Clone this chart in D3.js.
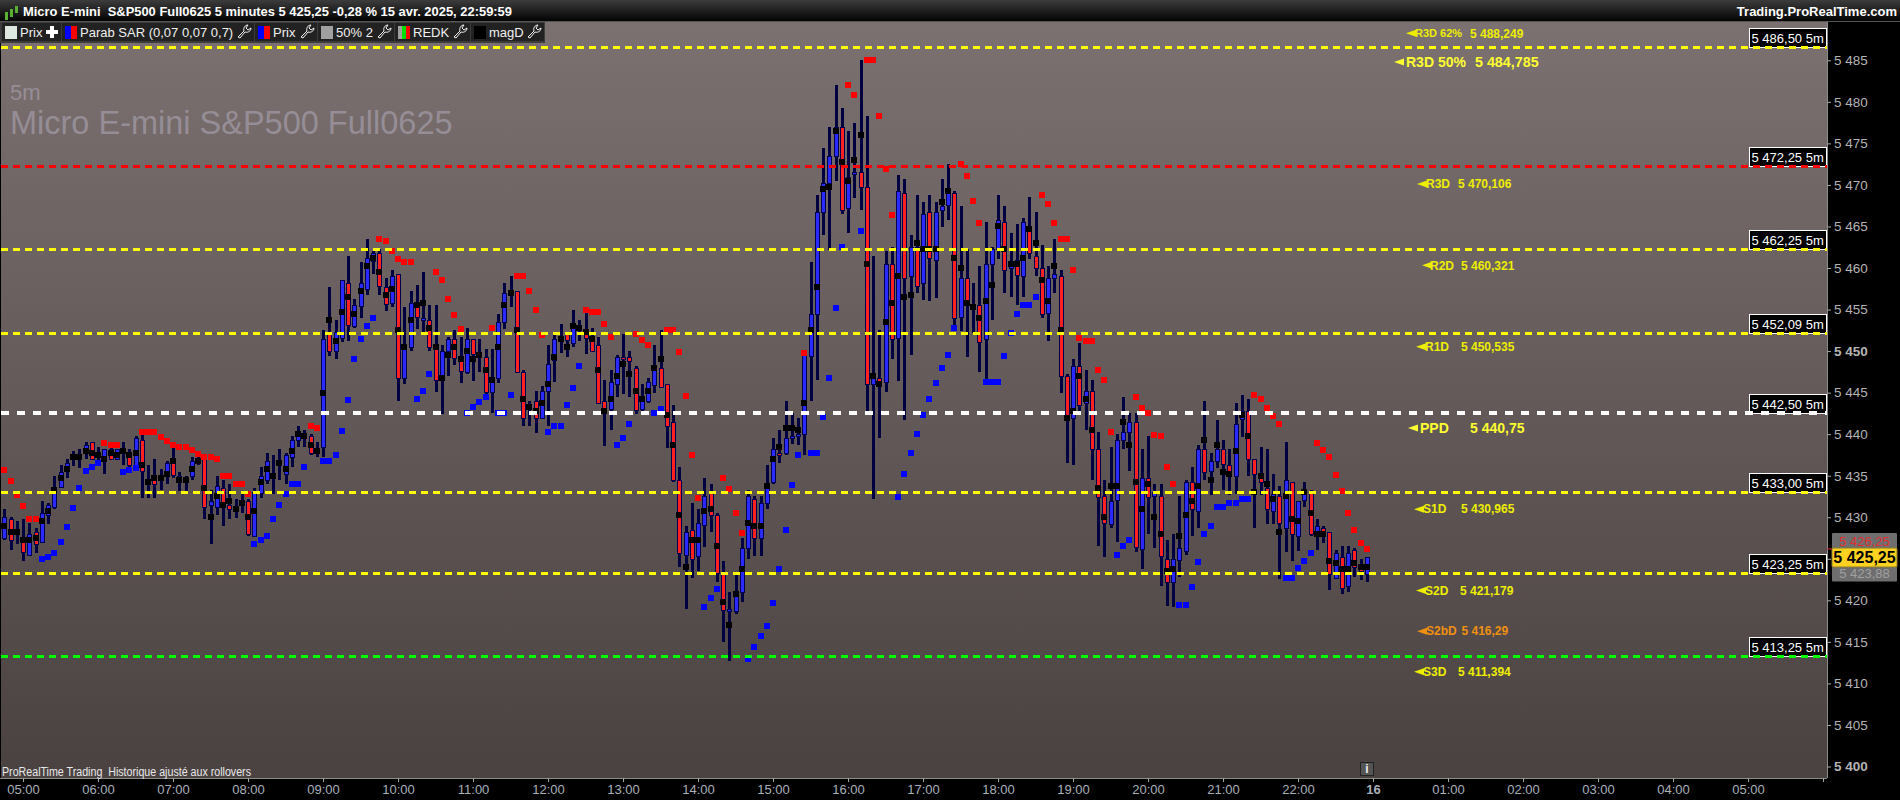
<!DOCTYPE html>
<html>
<head>
<meta charset="utf-8">
<title>Micro E-mini S&amp;P500 Full0625</title>
<script src="https://cdn.jsdelivr.net/npm/d3@7"></script>
<style>
  html, body { margin: 0; padding: 0; background: #000; overflow: hidden; }
  text { font-family: "Liberation Sans", Arial, sans-serif; white-space: pre; }
</style>
</head>
<body>
<div class="graph"></div>
<script>
// Bars, one every 5 minutes, 04:40 to 22:55
const barHigh = [
  5431,5430,5429.5,5429.75,5429.25,5428.75,5432,5431.75,5435,5436.25,
  5437,5438,5438.25,5439,5439,5438.5,5438.25,5438.75,5438.25,5439,
  5438.25,5439.75,5440.25,5436.25,5437,5435.75,5436.75,5438.5,5435.5,5435,
  5437.25,5437.25,5437,5433.25,5435,5434.5,5434,5432.25,5432.75,5432.25,
  5433.5,5436,5437.75,5437.5,5438.25,5437.75,5439.75,5441,5440.5,5440,
  5439,5452.5,5457.75,5453.75,5458.5,5461.5,5456.25,5460.75,5463.5,5462,
  5462.25,5458.75,5459.75,5459.25,5455.25,5457.25,5458,5459.5,5455.5,5455.5,
  5450.75,5451.75,5452.5,5451.75,5452.75,5451.5,5451.5,5450.25,5450.25,5454.5,
  5458.25,5459,5457.25,5447.75,5444,5445.25,5445.75,5450.75,5452.25,5453.25,
  5452.25,5455,5453.75,5454.75,5452.75,5451.75,5446.5,5447.75,5449.5,5452,
  5450,5448.25,5446,5446.75,5450.75,5452.5,5446,5443.5,5436,5429,
  5431.75,5431,5434.75,5434,5430.5,5424.75,5421,5423,5427.5,5433.25,
  5432.5,5432.5,5436.25,5439.5,5440.5,5444,5442.5,5442,5449.75,5460.75,
  5468.75,5474.5,5477,5482,5479.25,5476.5,5477.5,5485,5478.25,5461.5,
  5452.5,5462,5462.5,5471.25,5470.75,5464,5468.75,5468,5468.75,5468,
  5470.75,5472.5,5469.25,5467.5,5462.25,5458.25,5460.25,5465.5,5462.5,5468.75,
  5467.5,5464.25,5465.25,5466,5468.5,5466.75,5462.75,5460.25,5463.5,5459.75,
  5447.25,5449,5451,5447.75,5446.5,5440.25,5434.5,5438.5,5440,5444.5,
  5442.5,5442.5,5438.25,5439.75,5434,5434,5427.25,5428,5432.5,5434.5,
  5436,5438.75,5444,5437.75,5441.75,5439.25,5438.25,5443.75,5444.75,5444.25,
  5437,5438.5,5438.25,5435.25,5433.75,5439,5434.25,5432,5434.25,5433.25,
  5429.75,5429,5428.25,5426,5426.5,5426.5,5426.25,5425,5425.25
];
const barLow = [
  5427.25,5426,5426.75,5424.75,5425.25,5425.75,5427,5429.25,5431,5433.5,
  5434.75,5436.25,5436,5437,5437,5436.25,5435.25,5437,5437,5436.25,
  5436,5436,5432.25,5432.25,5432.25,5433.25,5434,5434.75,5433.25,5433.25,
  5434.5,5436.25,5429.75,5426.75,5430.25,5429,5429.75,5430,5430.5,5427.75,
  5427.75,5432.25,5434,5432.75,5434.5,5434,5436,5438.5,5438.5,5437.5,
  5437.25,5437.25,5449.5,5449,5451,5451.25,5452.75,5454,5456.75,5459.25,
  5456.75,5454.75,5455.25,5444,5446,5450,5452.75,5452.25,5450,5445,
  5442.5,5447,5448.25,5446.25,5447.25,5446.5,5447.5,5444.5,5442.5,5446.25,
  5452.75,5455.25,5447.5,5441,5441,5440.25,5441.75,5441,5446.25,5449.75,
  5449.25,5450.5,5451.25,5449.75,5450,5443.75,5438.5,5440.5,5444.5,5444.75,
  5444.5,5442.5,5442.75,5443.75,5445,5445.5,5438.25,5434.25,5424,5419,
  5422.75,5423.5,5426.5,5428.25,5422.25,5415,5412.75,5418.25,5419.75,5425,
  5425.25,5425.25,5431,5434,5436.5,5437.5,5438.75,5438.75,5437.5,5444,
  5446.5,5464,5462.25,5470.5,5466.5,5464.25,5468.5,5467,5442.75,5432.25,
  5439.5,5445,5449,5446.5,5441.75,5449.5,5457,5456.25,5456,5456.5,
  5465,5465.75,5452.5,5452.5,5449.25,5452.25,5447.5,5446.25,5453.75,5461,
  5457,5456.5,5455.5,5456.5,5461,5459,5454,5451.25,5457,5445,
  5436.5,5436.25,5442.5,5440.5,5434.5,5426.5,5425.25,5428.75,5427,5438.25,
  5435.5,5425.75,5423.75,5428,5426.25,5421.75,5419.25,5419.25,5422.75,5425.5,
  5427.75,5428.75,5434.5,5432.75,5436,5433.25,5432.75,5432.75,5439.75,5435,
  5428.75,5432.75,5429.25,5429.25,5422.5,5425.75,5424.75,5426,5431.25,5427.75,
  5426,5427,5421.25,5422.75,5420.75,5421,5422.75,5422.5,5422.25
];
const barOpen = [
  5427.5,5429.75,5428,5427,5425.5,5428.25,5427,5430.25,5431.25,5433.75,
  5435.5,5437,5437,5437.75,5439,5437.25,5436.75,5438.25,5437,5437.75,
  5437.25,5436.25,5439.25,5434,5435,5434.5,5435.25,5436.5,5435,5434.25,
  5435,5436.5,5437,5431.5,5431.25,5433.5,5431.5,5430.75,5431.5,5432,
  5427.75,5433,5434.5,5434.75,5436.25,5435.25,5437.25,5439.25,5439.5,5439.75,
  5437.75,5438.5,5452,5450,5451.5,5458.25,5453,5455.5,5457.5,5460.75,
  5461.75,5457.75,5455.75,5459.25,5446.75,5450.5,5455.25,5453.75,5453.75,5450.75,
  5446.75,5450,5451.5,5449,5447.5,5451.5,5449.25,5449.25,5445,5446.75,
  5453.5,5456.75,5457.25,5447.5,5443,5444,5442,5445.25,5449,5451.25,
  5452,5451,5452.5,5452.25,5451.25,5450.75,5444,5443,5446,5449.25,
  5449.25,5448,5443,5444,5446,5448,5446,5441.5,5434.5,5425.5,
  5428.5,5425.25,5429,5433,5430.25,5423.25,5418.75,5418.75,5421,5426.25,
  5432.25,5427.5,5431.75,5434.25,5437.75,5437.75,5439.5,5439.75,5440,5449.5,
  5454.5,5466.75,5470.25,5473.5,5477,5467.25,5471.25,5471.5,5469.75,5446,
  5446.75,5446.25,5460.5,5451.5,5469,5459,5462.5,5458.25,5466.75,5461,
  5467,5467.5,5469,5454,5458.75,5455,5455.5,5451.5,5460.5,5462.25,
  5465.5,5460,5461,5459,5465,5461.5,5460,5454.5,5458.75,5459,
  5447,5442,5448.25,5443.75,5445.25,5438.25,5432.5,5429.25,5432,5439.25,
  5440.25,5441.5,5426.25,5434.75,5432.5,5432.5,5425,5422.25,5424.75,5426,
  5434.25,5430.75,5438.25,5435.5,5436.75,5438.25,5436.25,5435,5441.75,5442.75,
  5437,5435.25,5433.5,5430.75,5432.5,5428.75,5434.25,5427.75,5432,5433,
  5428,5428.75,5428.25,5422.75,5425.25,5421.75,5426,5424.25,5423.25
];
const barClose = [
  5430,5427.25,5428.25,5425.75,5428,5426.75,5430.5,5431.5,5433.25,5435.5,
  5436.5,5437.25,5437.25,5438.75,5437,5437.75,5438.25,5437,5438.25,5438,
  5436.25,5439.5,5435.5,5434.25,5434,5434.75,5436.5,5435,5434.75,5434.5,
  5436.75,5436.75,5431.25,5432,5433.75,5431.75,5431,5431,5431.75,5428,
  5433,5435,5436.75,5435,5436.5,5437.5,5439.25,5440,5439.75,5437.75,
  5438,5451.5,5450,5452.25,5458.5,5453.25,5455.5,5458.25,5461.25,5461.75,
  5457.75,5455.75,5459,5446.75,5450.25,5455.75,5454,5454,5450.5,5446.5,
  5450,5451.5,5449.25,5447.5,5451.5,5449.75,5449.5,5445,5446.5,5453.5,
  5457,5457,5447.5,5442,5443.25,5442,5445.25,5448.5,5451.5,5451.5,
  5451.25,5452.75,5452.75,5451.5,5450,5443.75,5443,5446.25,5449.25,5449,
  5448.75,5443,5444.25,5446.25,5448.25,5445.75,5441,5434.5,5425.75,5428.25,
  5425,5429.25,5432.5,5430.25,5423.25,5418.75,5419,5420.75,5426.25,5432.5,
  5427.5,5431.75,5433.75,5438.25,5437.5,5439.5,5439.75,5440,5449.5,5454.5,
  5466.75,5470.25,5473.5,5477,5467,5471,5471.5,5469.75,5446,5446.75,
  5446,5460.5,5451.5,5469.25,5458.75,5462.5,5457.75,5466.5,5461.25,5466.75,
  5467.5,5469,5454,5458.75,5455.5,5455.25,5451,5460.5,5462.25,5465.75,
  5459.75,5460.75,5459.25,5465.5,5461.75,5460,5454.5,5458.75,5459.25,5447,
  5442.25,5448.25,5443.5,5445.25,5438.25,5432.5,5429.25,5432,5439.25,5440.25,
  5441.5,5426.5,5434.75,5432.5,5433,5425.25,5422.25,5425,5426.25,5434.25,
  5431,5438.25,5435.5,5436.75,5438.25,5436.5,5435,5441.25,5442.75,5437,
  5435.25,5434.25,5431,5432.75,5429.25,5434.5,5428,5432,5432.75,5428,
  5429,5428,5423.25,5425.75,5421.5,5425.75,5424,5423.5,5425.25
];
// Black square of the magD indicator on each bar
const barMark = [
  5429,5428.25,5428.25,5427.25,5427.25,5427.5,5429.5,5430.75,5433.25,5434.75,
  5435.75,5437.25,5437.25,5438,5437.75,5437.5,5437,5437.75,5437.5,5438,
  5437.5,5437.75,5436.25,5434.25,5434.75,5434.75,5435.25,5436.75,5434.5,5434.5,
  5435.75,5436.75,5433.5,5430,5432.5,5431.5,5432,5431,5431.75,5430,
  5430.75,5434.25,5435.75,5435,5436.5,5435.75,5438,5440,5439.75,5438.75,
  5438,5445,5453.75,5451.25,5454.75,5456.5,5454.5,5457.25,5460.25,5461.25,
  5459.5,5456.75,5457.5,5452.5,5450.5,5453.75,5455.5,5455.75,5452.75,5450.5,
  5446.75,5449.5,5450.5,5449,5450,5449,5449.5,5447.75,5446.5,5450.5,
  5455.5,5457,5452.5,5444.25,5443.25,5442.75,5443.75,5446,5449.25,5451.5,
  5450.5,5453,5452.75,5452.25,5451.5,5447.75,5442.75,5444.25,5447,5448.5,
  5447.25,5445.25,5444.25,5445.25,5448,5449,5442.25,5438.75,5430.25,5424,
  5427.25,5427.25,5430.75,5431,5426.5,5419.75,5417,5420.75,5423.75,5429.25,
  5429,5429,5433.75,5437,5438.5,5440.75,5440.75,5440.5,5443.75,5452.5,
  5457.75,5469.5,5469.75,5476.5,5472.75,5470.5,5473,5476,5460.5,5447,
  5446,5453.5,5455.75,5459,5456.5,5456.75,5463,5462.25,5462.25,5462.25,
  5468,5469.25,5461.25,5460,5455.75,5455.25,5454,5456,5458,5465,
  5462.25,5460.5,5460.5,5461.25,5464.75,5463,5458.5,5456,5460.25,5452.5,
  5442,5442.75,5447,5444.25,5440.5,5433.5,5430,5433.75,5433.75,5441.5,
  5438.75,5434.25,5431,5434,5430,5428,5423.5,5423.75,5427.75,5430.25,
  5432,5433.75,5439.25,5434.5,5438.75,5435.5,5435.25,5438,5442.25,5439.75,
  5433,5435,5434,5432.25,5428.25,5432.5,5429.75,5429.5,5433,5430.5,
  5428,5428,5424.75,5424.5,5423.75,5423.75,5424.5,5424,5424
];

// Parabolic SAR points as [bar number, price]
const sarRed = [
  [0,5435.68],[1,5434.4],[2,5432.71],[3,5431.35],[4,5429.82],[5,5429.82],[16,5438.97],[17,5438.73],[18,5438.73],
  [22,5440.26],[23,5440.26],[24,5440.26],[25,5439.7],[26,5439.21],[27,5438.73],[28,5438.49],[29,5438.49],[30,5438.09],
  [31,5437.61],[32,5437.29],[33,5437.29],[34,5437.05],[35,5434.96],[36,5434.96],[37,5434],[38,5434],[39,5432.79],
  [49,5440.98],[50,5440.74],[60,5463.49],[61,5463.29],[62,5462.09],[63,5461.12],[64,5460.72],[65,5460.72],
  [69,5459.52],[70,5458.56],[71,5456.31],[72,5454.38],[73,5452.7],[78,5452.78],[82,5459.04],[83,5459.04],[84,5457.27],
  [85,5454.94],[86,5451.98],[93,5454.94],[94,5454.7],[95,5454.7],[96,5453.26],[97,5451.73],[101,5452.06],[102,5451.33],
  [103,5450.73],[106,5452.54],[107,5452.54],[108,5449.89],[109,5444.59],[110,5437.53],[111,5432.31],[115,5434.72],
  [116,5433.44],[117,5430.55],[118,5428.14],[128,5449.8],[135,5482.06],[136,5480.82],[138,5485.03],[139,5485.03],
  [140,5478.29],[141,5471.95],[142,5466.41],[153,5472.51],[154,5471.07],[155,5468.1],[156,5465.45],[166,5468.82],
  [167,5467.74],[168,5465.45],[169,5463.52],[170,5463.52],[171,5459.75],[172,5451.56],[173,5451.2],[174,5451.2],
  [175,5447.71],[176,5446.52],[177,5440.26],[181,5444.51],[182,5443.15],[183,5442.59],[184,5439.94],[185,5439.78],
  [186,5436.09],[187,5434],[200,5444.75],[201,5444.27],[202,5443.15],[203,5442.19],[204,5441.22],[210,5438.98],
  [211,5438.09],[212,5437.29],[213,5435.12],[214,5433.2],[215,5430.55],[216,5428.46],[217,5426.94],[218,5426.21]
];
const sarBlue = [
  [6,5424.93],[7,5425.25],[8,5425.73],[9,5427.05],[10,5428.86],[11,5431.11],[12,5433.52],[13,5435.6],[14,5436.04],
  [15,5436.49],[19,5435.48],[20,5435.68],[21,5435.88],[40,5426.78],[41,5427.26],[42,5427.74],[43,5429.82],[44,5431.47],
  [45,5432.79],[46,5434],[47,5434],[48,5436.08],[51,5436.81],[52,5436.81],[53,5437.49],[54,5440.42],[55,5444.11],
  [56,5449.05],[57,5451.49],[58,5453.02],[59,5453.98],[66,5444.27],[67,5445.23],[68,5447.24],[74,5442.58],[75,5443.31],
  [76,5443.87],[77,5444.51],[79,5442.58],[80,5442.58],[81,5444.75],[87,5440.26],[88,5440.98],[89,5440.98],[90,5443.55],
  [91,5445.55],[92,5448.2],[98,5438.69],[99,5439.54],[100,5441.22],[104,5442.58],[105,5443.07],[112,5419.23],[113,5420.27],
  [114,5421.4],[119,5412.97],[120,5414.41],[121,5415.7],[122,5416.9],[123,5419.67],[124,5423.76],[125,5428.46],
  [126,5433.88],[127,5437.49],[129,5437.76],[130,5437.76],[131,5442.09],[132,5446.75],[133,5455.18],[134,5462.56],
  [137,5464.49],[143,5432.46],[144,5435.19],[145,5437.76],[146,5440.01],[147,5442.33],[148,5444.26],[149,5446.19],
  [150,5447.95],[151,5449.56],[152,5452.81],[157,5446.27],[158,5446.27],[159,5446.27],[160,5449.4],[161,5452.13],
  [162,5454.45],[163,5455.54],[164,5455.54],[165,5456.54],[178,5425.49],[179,5426.58],[180,5427.3],[188,5419.47],
  [189,5419.47],[190,5421.64],[191,5424.61],[192,5428.02],[193,5428.98],[194,5431.27],[195,5431.27],[196,5431.75],
  [197,5431.75],[198,5432.23],[199,5432.23],[205,5422.68],[206,5422.68],[207,5423.89],[208,5424.77],[209,5425.73]
];

// Horizontal levels with their tags on the right
const levelPrices = [5486.5, 5472.25, 5462.25, 5452.09, 5442.5, 5433, 5423.25, 5413.25];
const levelTags = ["5 486,50 5m", "5 472,25 5m", "5 462,25 5m", "5 452,09 5m", "5 442,50 5m", "5 433,00 5m", "5 423,25 5m", "5 413,25 5m"];
const levelKinds = ["yellow", "red", "yellow", "yellow", "white", "yellow", "yellow", "green"];

// Pivot notes in the empty part of the chart
const notePrices = [5488.249, 5484.785, 5470.106, 5460.321, 5450.535, 5440.75, 5430.965, 5421.179, 5416.29, 5411.394];
const noteNames = ["R3D 62%", "R3D 50%", "R3D", "R2D", "R1D", "PPD", "S1D", "S2D", "S2bD", "S3D"];
const noteValues = ["5 488,249", "5 484,785", "5 470,106", "5 460,321", "5 450,535", "5 440,75", "5 430,965", "5 421,179", "5 416,29", "5 411,394"];

// Axis labels
const timeBars = [3, 15, 27, 39, 51, 63, 75, 87, 99, 111, 123, 135, 147, 159, 171, 183, 195, 207, 219, 231, 243, 255, 267, 279, 291];
const timeLabels = ["05:00", "06:00", "07:00", "08:00", "09:00", "10:00", "11:00", "12:00", "13:00", "14:00", "15:00", "16:00", "17:00", "18:00", "19:00", "20:00", "21:00", "22:00", "16", "01:00", "02:00", "03:00", "04:00", "05:00", ""];
const priceTicks = d3.range(5400, 5486, 5);

const legendNames = ["Prix", "Parab SAR (0,07 0,07 0,7)", "Prix", "50% 2", "REDK", "magD"];
const legendSwatches = [["#dfe8e0"], ["#0000ff", "#ff0000"], ["#0000ff", "#ff0000"], ["#a0a0a0"], ["#a0a0a0", "#00e000", "#ff0000"], ["#000000"]];

// Layout, in pixels
const width = 1900;
const height = 800;
const plotLeft = 1;
const plotRight = 1827;
const plotTop = 22;
const plotBottom = 778;
const legendLeft = [2, 62, 255, 318, 395, 471];
const legendRight = [61, 254, 317, 394, 470, 544];
const noteArrowX = [1406, 1394, 1417, 1422, 1416, 1408, 1414, 1416, 1417, 1414];
const noteNameX = [1415, 1406, 1426, 1430, 1425, 1420, 1423, 1425, 1426, 1423];
const noteNameSizes = [11, 14, 12, 12, 12, 14, 12, 12, 12, 12];
const noteValueX = [1470, 1475, 1458, 1461, 1461, 1470, 1461, 1460, 1461.5, 1458];
const noteSizes = [12, 14.3, 12, 12, 12, 14, 12, 12, 12, 12];

const levelStyle = {
  yellow: { color: "#ffff00", size: 3, dash: "7,5" },
  red: { color: "#ff0000", size: 3, dash: "7,5" },
  green: { color: "#00ff00", size: 3, dash: "7,5" },
  white: { color: "#ffffff", size: 4, dash: "8,8" }
};

let x = d3.scaleLinear().domain([0, 292]).range([4.3, 1829.3]);
let y = d3.scaleLinear().domain([5400, 5485]).range([766.5, 60.3]);

let svg = d3.select(".graph").append("svg")
  .attr("width", width)
  .attr("height", height)
  .style("display", "block");

// Background gradients
let defs = svg.append("defs");
let plotGradient = defs.append("linearGradient")
  .attr("id", "plotBg").attr("x1", 0).attr("y1", 0).attr("x2", 0).attr("y2", 1);
plotGradient.append("stop").attr("offset", "0%").attr("stop-color", "#7b7170");
plotGradient.append("stop").attr("offset", "100%").attr("stop-color", "#4a4241");
let titleGradient = defs.append("linearGradient")
  .attr("id", "titleBg").attr("x1", 0).attr("y1", 0).attr("x2", 0).attr("y2", 1);
titleGradient.append("stop").attr("offset", "0%").attr("stop-color", "#3c3c3c");
titleGradient.append("stop").attr("offset", "100%").attr("stop-color", "#000000");

svg.append("rect").attr("width", width).attr("height", height).attr("fill", "#000");
svg.append("rect")
  .attr("x", plotLeft).attr("y", plotTop)
  .attr("width", plotRight - plotLeft).attr("height", plotBottom - plotTop)
  .attr("fill", "url(#plotBg)");
svg.append("line")
  .attr("x1", 0).attr("x2", plotRight).attr("y1", plotBottom + 0.5).attr("y2", plotBottom + 0.5)
  .attr("stroke", "#8a8a8a");
svg.append("line")
  .attr("x1", plotRight + 0.5).attr("x2", plotRight + 0.5).attr("y1", plotTop).attr("y2", plotBottom)
  .attr("stroke", "#8a8a8a");

// Watermark
svg.append("text").attr("x", 10).attr("y", 100)
  .attr("font-size", 22).attr("fill", "#968e96").text("5m");
svg.append("text").attr("x", 10).attr("y", 134)
  .attr("font-size", 32.5).attr("fill", "#968e96").text("Micro E-mini S&P500 Full0625");

// Candles
const bars = d3.range(barHigh.length);
const px = i => Math.round(x(i));
let candles = svg.append("g");

candles.selectAll(".wick")
  .data(bars)
  .join("rect")
  .attr("class", "wick")
  .attr("x", i => px(i) - 1)
  .attr("width", 3)
  .attr("y", i => Math.round(y(barHigh[i])))
  .attr("height", i => Math.round(y(barLow[i]) - y(barHigh[i])))
  .attr("fill", "#000040");

// Stroke centred on half pixels, so the border is one sharp pixel
candles.selectAll(".body")
  .data(bars)
  .join("rect")
  .attr("class", "body")
  .attr("x", i => px(i) - 1.5)
  .attr("width", 4)
  .attr("y", i => Math.round(y(Math.max(barOpen[i], barClose[i]))) + 0.5)
  .attr("height", i => Math.max(2, Math.round(Math.abs(y(barOpen[i]) - y(barClose[i])))))
  .attr("fill", i => barClose[i] >= barOpen[i] ? "#2a2aff" : "#ff2020")
  .attr("stroke", "#000050")
  .attr("stroke-width", 1);

// SAR squares
function drawSar(points, color) {
  candles.append("g").selectAll("rect")
    .data(points)
    .join("rect")
    .attr("x", d => px(d[0]) - 3)
    .attr("y", d => Math.round(y(d[1]) - 3))
    .attr("width", 6)
    .attr("height", 6)
    .attr("fill", color);
}
drawSar(sarRed, "#ff0000");
drawSar(sarBlue, "#0000ff");

candles.selectAll(".mark")
  .data(bars)
  .join("rect")
  .attr("class", "mark")
  .attr("x", i => px(i) - 3)
  .attr("y", i => Math.round(y(barMark[i]) - 3))
  .attr("width", 6)
  .attr("height", 6)
  .attr("fill", "#000000");

// Level tags, the dashes run over their bottom edge
svg.append("g").selectAll("g")
  .data(levelPrices)
  .join("g")
  .each(function(d, i) {
    let g = d3.select(this);
    g.append("rect")
      .attr("x", 1749).attr("y", y(d) - 19)
      .attr("width", 77).attr("height", 19)
      .attr("fill", "#000").attr("stroke", "#fff").attr("stroke-width", 1)
      .attr("shape-rendering", "crispEdges");
    g.append("text")
      .attr("x", 1751.5).attr("y", y(d) - 4.5)
      .attr("font-size", 13).attr("fill", "#fff")
      .text(levelTags[i]);
  });

// Dashed levels
svg.append("g").attr("shape-rendering", "crispEdges").selectAll("line")
  .data(levelPrices)
  .join("line")
  .attr("x1", plotLeft)
  .attr("x2", plotRight)
  .attr("y1", d => y(d))
  .attr("y2", d => y(d))
  .attr("stroke", (d, i) => levelStyle[levelKinds[i]].color)
  .attr("stroke-width", (d, i) => levelStyle[levelKinds[i]].size)
  .attr("stroke-dasharray", (d, i) => levelStyle[levelKinds[i]].dash);

// Pivot notes
let notes = svg.append("g").selectAll("g")
  .data(notePrices)
  .join("g")
  .attr("font-weight", "bold")
  .attr("fill", (d, i) => noteNames[i] === "S2bD" ? "#f09010" : (noteSizes[i] > 12 ? "#ffff30" : "#eeee00"));
notes.append("path")
  .attr("d", (d, i) => `M${noteArrowX[i]},${y(d)} l10,-3.5 v7 z`);
notes.append("text")
  .attr("x", (d, i) => noteNameX[i])
  .attr("y", d => y(d))
  .attr("dy", "0.35em")
  .attr("font-size", (d, i) => noteNameSizes[i])
  .text((d, i) => noteNames[i]);
notes.append("text")
  .attr("x", (d, i) => noteValueX[i])
  .attr("y", d => y(d))
  .attr("dy", "0.35em")
  .attr("font-size", (d, i) => noteSizes[i])
  .text((d, i) => noteValues[i]);

// Price axis
let yAxis = svg.append("g")
  .attr("transform", `translate(${plotRight},0)`)
  .call(d3.axisRight(y)
    .tickValues(priceTicks)
    .tickSize(4)
    .tickPadding(3)
    .tickFormat(d => "5 " + String(d).slice(1)));
yAxis.select(".domain").remove();
yAxis.selectAll("line").attr("stroke", "#a8a8a8");
yAxis.selectAll("text")
  .attr("fill", "#b4b4b4")
  .attr("font-size", 13.5)
  .attr("font-family", "Liberation Sans")
  .attr("font-weight", d => d === 5400 || d === 5450 ? "bold" : "normal");

// Time axis
let xAxis = svg.append("g")
  .attr("transform", `translate(0,${plotBottom})`)
  .call(d3.axisBottom(x)
    .tickValues(timeBars)
    .tickSize(4)
    .tickPadding(3)
    .tickFormat(d => timeLabels[timeBars.indexOf(d)]));
xAxis.select(".domain").remove();
xAxis.selectAll("line").attr("stroke", "#a8a8a8");
xAxis.selectAll("text")
  .attr("fill", "#a8b0b8")
  .attr("font-size", 13)
  .attr("font-family", "Liberation Sans")
  .attr("font-weight", d => timeLabels[timeBars.indexOf(d)] === "16" ? "bold" : "normal");

// Last price tags on the axis
function priceTag(top, h, fill, textColor, label, size, weight) {
  svg.append("rect")
    .attr("x", 1832).attr("y", top).attr("width", 65).attr("height", h)
    .attr("fill", fill).attr("stroke", "#8a7a30").attr("stroke-width", fill === "#ffd21f" ? 1 : 0)
    .attr("rx", 1);
  svg.append("text")
    .attr("x", 1864.5).attr("y", top + h / 2).attr("dy", "0.36em")
    .attr("text-anchor", "middle")
    .attr("font-size", size).attr("font-weight", weight).attr("fill", textColor)
    .text(label);
}
priceTag(533, 16, "#6e6e6e", "#e03030", "5 426,25", 13, "normal");
priceTag(565.5, 16, "#6e6e6e", "#a0a0a0", "5 423,88", 13, "normal");
priceTag(548, 19, "#ffd21f", "#000000", "5 425,25", 16, "bold");
svg.append("rect").attr("x", 1827).attr("y", y(5426.25)).attr("width", 5).attr("height", 1).attr("fill", "#e03030");

// Title bar
svg.append("rect").attr("width", width).attr("height", plotTop).attr("fill", "url(#titleBg)");
svg.append("rect").attr("y", plotTop - 1).attr("width", width).attr("height", 1).attr("fill", "#555");
let titleIcon = svg.append("g").attr("shape-rendering", "crispEdges").attr("fill", "#58b030");
[[5, 12, 8], [10, 9, 8], [15, 6, 7]].forEach(d => {
  titleIcon.append("rect").attr("x", d[0]).attr("y", d[1]).attr("width", 3).attr("height", d[2]);
});
svg.append("text").attr("x", 23).attr("y", 16)
  .attr("font-size", 13).attr("font-weight", "bold").attr("fill", "#fff")
  .attr("textLength", 489).attr("lengthAdjust", "spacingAndGlyphs")
  .text("Micro E-mini  S&P500 Full0625 5 minutes 5 425,25 -0,28 % 15 avr. 2025, 22:59:59");
svg.append("text").attr("x", 1897).attr("y", 16)
  .attr("text-anchor", "end")
  .attr("font-size", 13).attr("font-weight", "bold").attr("fill", "#fff")
  .text("Trading.ProRealTime.com");

// Legend strip
const wrenchPath = "M0,12 L6,6 C5,3 7,0 10,0 L8,3 L10,5 L13,3 C13,6 10,8 7,7 L2,13 Z";
const plusPath = "M4,0 h4 v4 h4 v4 h-4 v4 h-4 v-4 h-4 v-4 h4 z";
let legend = svg.append("g");
legend.append("rect")
  .attr("x", 0).attr("y", plotTop).attr("width", 545).attr("height", 21)
  .attr("fill", "#3c3c3c");
legendNames.forEach((name, i) => {
  legend.append("rect")
    .attr("x", legendLeft[i]).attr("y", plotTop + 1)
    .attr("width", legendRight[i] - legendLeft[i]).attr("height", 18)
    .attr("fill", "#222222");
  let n = legendSwatches[i].length;
  legendSwatches[i].forEach((c, j) => {
    legend.append("rect")
      .attr("x", legendLeft[i] + 3 + j * 12 / n).attr("y", plotTop + 4)
      .attr("width", 12 / n).attr("height", 13)
      .attr("fill", c);
  });
  legend.append("text")
    .attr("x", legendLeft[i] + 18).attr("y", plotTop + 15)
    .attr("font-size", 13).attr("fill", "#f0f0f0")
    .text(name);
  if (i === 0) {
    legend.append("path")
      .attr("transform", `translate(${legendRight[i] - 15},${plotTop + 4})`)
      .attr("d", plusPath).attr("fill", "#fff");
  } else {
    legend.append("path")
      .attr("transform", `translate(${legendRight[i] - 16},${plotTop + 3})`)
      .attr("d", wrenchPath).attr("fill", "none").attr("stroke", "#f0f0f0");
  }
});

// Footer note and info button
svg.append("text").attr("x", 2).attr("y", 776)
  .attr("font-size", 12).attr("fill", "#e8e8e8")
  .attr("textLength", 249).attr("lengthAdjust", "spacingAndGlyphs")
  .text("ProRealTime Trading  Historique ajusté aux rollovers");
svg.append("rect")
  .attr("x", 1360.5).attr("y", 762.5).attr("width", 13).attr("height", 13)
  .attr("fill", "#555").attr("stroke", "#222");
svg.append("text").attr("x", 1367).attr("y", 773)
  .attr("text-anchor", "middle")
  .attr("font-size", 12).attr("font-weight", "bold").attr("fill", "#eee")
  .text("i");
</script>
</body>
</html>
